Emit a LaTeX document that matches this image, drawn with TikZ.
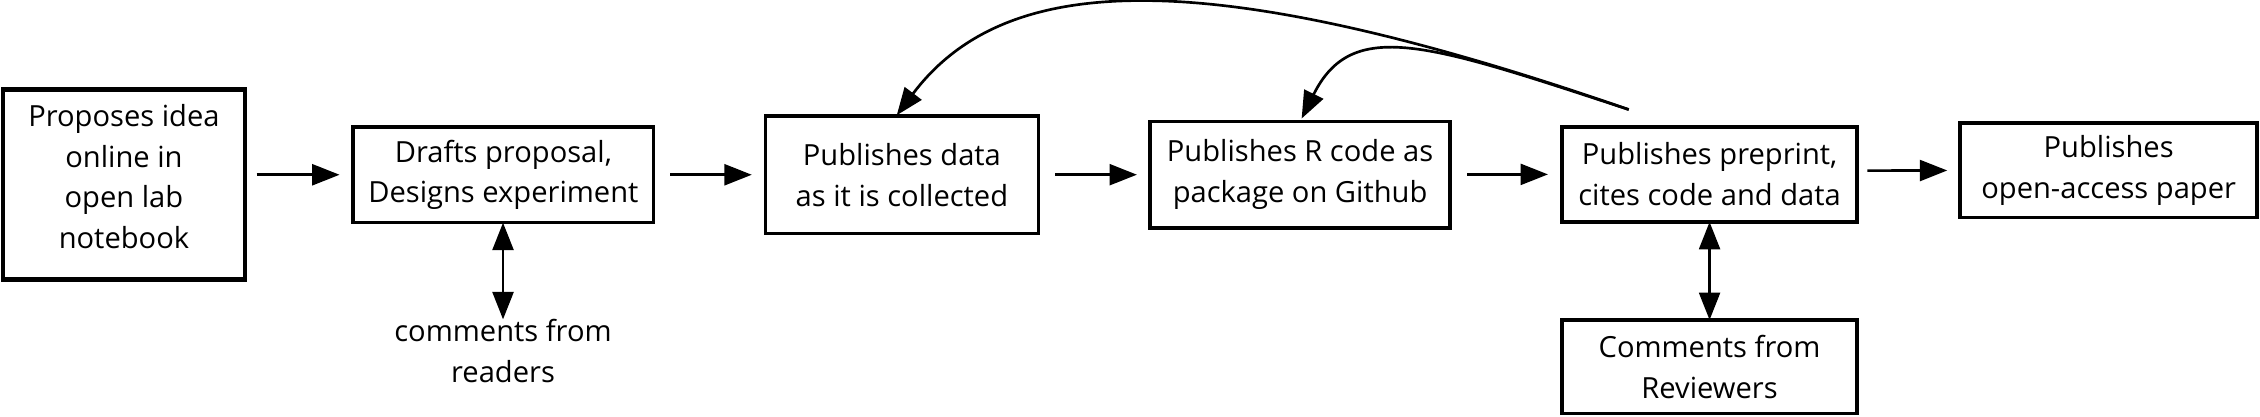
\documentclass[tikz,border=0pt]{standalone}
\usepackage{fontspec}
\setmainfont{Open Sans}
\usetikzlibrary{arrows.meta}
\begin{document}
\begin{tikzpicture}[x=1pt,y=-1pt,
  txt/.style={align=center, inner sep=0pt, outer sep=0pt, font=\fontsize{20.2}{28.2}\selectfont},
  box/.style={txt, draw, line width=2.5pt},
  tip/.tip={Triangle[length=19pt,width=14.5pt]},
  arr/.style={line width=1.85pt, -tip},
  darr/.style={line width=1.85pt, tip-tip}
]
\useasboundingbox (0,0) rectangle (1568,289);
\node[box, line width=3.3pt, minimum width=168pt, minimum height=132pt] (b1) at (86,128) {};
\node[txt] (b1t) at ([yshift=5.5pt]b1.center) {Proposes idea\\online in\\open lab\\notebook};
\node[box, minimum width=208.5pt, minimum height=66.5pt] (b2) at (349.25,121.25)
  {Drafts proposal,\\Designs experiment};
\node[box, minimum width=189.5pt, minimum height=81.5pt] (b3) at (625.75,121.25)
  {Publishes data\\as it is collected};
\node[box, minimum width=208pt, minimum height=73.6pt] (b4) at (902,121.2)
  {Publishes R code as\\package on Github};
\node[box, minimum width=204.8pt, minimum height=66pt] (b5) at (1186.1,121)
  {Publishes preprint,\\cites code and data};
\node[box, minimum width=206pt, minimum height=65.5pt] (b6) at (1463,118.25)
  {Publishes\\open-access paper};
\node[box, minimum width=204.8pt, minimum height=65pt] (b7) at (1186.1,254.5)
  {Comments from\\Reviewers};
\node[txt] (rd) at (349,243.5) {comments from\\readers};
\coordinate (cs) at (1130,76);

\draw[arr, shorten <=8pt, shorten >=9.4pt] (b1.east |- b2.west) -- (b2.west);
\draw[arr, shorten <=11.5pt, shorten >=9.4pt] (b2.east) -- (b3.west |- b2.east);
\draw[arr, shorten <=11.5pt, shorten >=9.2pt] (b3.east |- b4.west) -- (b4.west);
\draw[arr, shorten <=11.8pt, shorten >=9.7pt] (b4.east |- b5.west) -- (b5.west);
\draw[arr, shorten <=7pt, shorten >=9pt] ([yshift=2.6pt]b5.east) -- (b6.west);
\draw[darr] (b2.south -| rd.north) -- (rd.north);
\draw[darr] (b5.south) -- (b7.north);
\draw[arr, shorten >=0.7pt] (cs) .. controls (830,-28) and (696,-18) .. ([xshift=-4pt]b3.north);
\draw[arr, shorten >=2.4pt] (cs) .. controls (990,30) and (938,12) .. (b4.north);
\end{tikzpicture}
\end{document}
